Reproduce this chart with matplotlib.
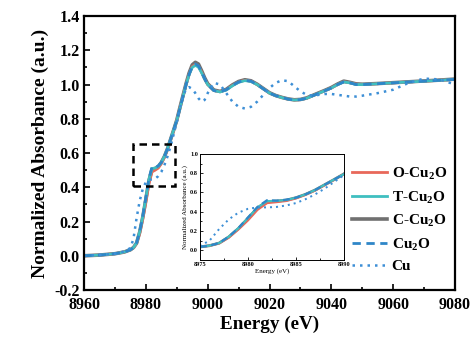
import matplotlib
matplotlib.use("Agg")
import matplotlib.pyplot as plt
from matplotlib.patches import Rectangle
from matplotlib.ticker import MultipleLocator

plt.rcParams["font.family"] = ["Liberation Serif", "DejaVu Serif"]
plt.rcParams["font.weight"] = "bold"
plt.rcParams["mathtext.fontset"] = "custom"
plt.rcParams["mathtext.rm"] = "Liberation Serif:bold"

# Photon energy grid (eV)
energy = [8960, 8965, 8970, 8973, 8975, 8976, 8977, 8978, 8979, 8980,
          8981, 8982, 8983, 8984, 8985, 8986, 8987, 8988, 8989, 8990,
          8991, 8992, 8993, 8994, 8995, 8996, 8997, 8998, 8999, 9000,
          9002, 9004, 9006, 9008, 9010, 9012, 9014, 9016, 9018, 9020,
          9022, 9024, 9026, 9028, 9030, 9032, 9034, 9036, 9038, 9040,
          9042, 9044, 9046, 9048, 9050, 9055, 9060, 9065, 9070, 9075, 9080]

# Normalized Cu K-edge XANES spectra
o_cu2o = [0.000, 0.004, 0.012, 0.022, 0.035, 0.047, 0.072, 0.130, 0.215, 0.310,
          0.420, 0.490, 0.500, 0.512, 0.538, 0.575, 0.620, 0.675, 0.732, 0.790,
          0.860, 0.930, 1.000, 1.060, 1.105, 1.118, 1.108, 1.073, 1.033, 1.000,
          0.965, 0.958, 0.970, 0.995, 1.015, 1.025, 1.020, 1.000, 0.975, 0.950,
          0.935, 0.924, 0.915, 0.910, 0.912, 0.920, 0.935, 0.950, 0.965, 0.980,
          1.000, 1.016, 1.010, 1.002, 1.000, 1.005, 1.010, 1.015, 1.020, 1.025, 1.030]
t_cu2o = [0.000, 0.004, 0.012, 0.022, 0.035, 0.048, 0.075, 0.140, 0.228, 0.335,
          0.445, 0.510, 0.512, 0.522, 0.545, 0.580, 0.625, 0.680, 0.735, 0.790,
          0.860, 0.930, 1.000, 1.058, 1.100, 1.112, 1.102, 1.070, 1.032, 1.000,
          0.965, 0.957, 0.968, 0.993, 1.013, 1.023, 1.018, 1.000, 0.975, 0.950,
          0.935, 0.924, 0.915, 0.910, 0.912, 0.920, 0.935, 0.950, 0.965, 0.980,
          1.000, 1.015, 1.010, 1.000, 1.000, 1.005, 1.010, 1.015, 1.020, 1.025, 1.030]
c_cu2o = [0.000, 0.004, 0.012, 0.022, 0.035, 0.048, 0.074, 0.138, 0.225, 0.330,
          0.440, 0.505, 0.510, 0.520, 0.545, 0.580, 0.625, 0.680, 0.735, 0.792,
          0.865, 0.935, 1.005, 1.068, 1.115, 1.130, 1.120, 1.082, 1.040, 1.005,
          0.968, 0.960, 0.972, 0.998, 1.018, 1.028, 1.022, 1.002, 0.977, 0.952,
          0.936, 0.925, 0.916, 0.911, 0.913, 0.922, 0.937, 0.952, 0.967, 0.983,
          1.003, 1.020, 1.013, 1.004, 1.002, 1.006, 1.011, 1.016, 1.021, 1.026, 1.032]
cu2o_ref = [0.000, 0.004, 0.012, 0.022, 0.035, 0.048, 0.075, 0.140, 0.230, 0.340,
            0.450, 0.520, 0.515, 0.525, 0.545, 0.580, 0.625, 0.680, 0.735, 0.790,
            0.860, 0.930, 1.000, 1.060, 1.105, 1.120, 1.110, 1.075, 1.035, 1.000,
            0.965, 0.958, 0.970, 0.995, 1.015, 1.025, 1.020, 1.000, 0.975, 0.950,
            0.935, 0.925, 0.915, 0.910, 0.912, 0.920, 0.935, 0.950, 0.965, 0.980,
            1.000, 1.015, 1.010, 1.000, 1.000, 1.005, 1.010, 1.015, 1.020, 1.025, 1.030]
cu_foil = [0.000, 0.005, 0.012, 0.025, 0.045, 0.100, 0.220, 0.320, 0.390, 0.430,
           0.445, 0.445, 0.450, 0.465, 0.490, 0.530, 0.580, 0.640, 0.710, 0.780,
           0.860, 0.930, 0.975, 0.985, 0.975, 0.950, 0.920, 0.900, 0.910, 0.950,
           1.010, 1.000, 0.950, 0.900, 0.870, 0.860, 0.870, 0.900, 0.940, 0.980,
           1.010, 1.025, 1.020, 0.990, 0.960, 0.940, 0.935, 0.940, 0.945, 0.945,
           0.940, 0.935, 0.930, 0.930, 0.935, 0.950, 0.970, 1.010, 1.035, 1.030, 1.000]

labels = ["O-Cu$_\\mathregular{2}$O", "T-Cu$_\\mathregular{2}$O", "C-Cu$_\\mathregular{2}$O",
          "Cu$_\\mathregular{2}$O", "Cu"]
colors = ["#e8685a", "#3fbfc0", "#707070", "#2f86c8", "#3d8fd6"]


def draw_spectra(ax, lw):
    h_c, = ax.plot(energy, c_cu2o, color=colors[2], lw=lw * 1.3)
    h_o, = ax.plot(energy, o_cu2o, color=colors[0], lw=lw)
    h_t, = ax.plot(energy, t_cu2o, color=colors[1], lw=lw)
    h_r, = ax.plot(energy, cu2o_ref, color=colors[3], lw=lw, ls=(0, (3, 2)))
    h_cu, = ax.plot(energy, cu_foil, color=colors[4], lw=lw * 0.9, ls=(0, (1, 2)))
    return [h_o, h_t, h_c, h_r, h_cu]


fig = plt.figure(figsize=(4.76, 3.42), dpi=100)
ax = fig.add_axes([0.1765, 0.152, 0.7795, 0.801])
handles = draw_spectra(ax, 2.0)
ax.set_xlim(8960, 9080)
ax.set_ylim(-0.2, 1.4)
ax.xaxis.set_major_locator(MultipleLocator(20))
ax.xaxis.set_minor_locator(MultipleLocator(10))
ax.yaxis.set_major_locator(MultipleLocator(0.2))
ax.yaxis.set_minor_locator(MultipleLocator(0.1))
ax.yaxis.set_major_formatter(plt.FuncFormatter(lambda v, p: f"{v:.1f}"))
ax.tick_params(which="both", direction="in", top=False, right=False, width=1.2,
               labelsize=11.5)
ax.tick_params(axis="x", which="major", pad=5)
ax.tick_params(axis="y", which="major", pad=3)
ax.tick_params(which="major", length=4)
ax.tick_params(which="minor", length=2.5)
for s in ax.spines.values():
    s.set_linewidth(1.6)
ax.set_xlabel("Energy (eV)", fontsize=13.8, fontweight="bold", labelpad=2)
ax.set_ylabel("Normalized Absorbance (a.u.)", fontsize=14, fontweight="bold", labelpad=4)

ax.add_patch(Rectangle((8976, 0.41), 13.5, 0.24, fill=False, ec="black", lw=1.8,
                       ls=(0, (3, 2)), zorder=5))

ax.legend(handles, labels, loc="upper left", bbox_to_anchor=(0.722, 0.455),
          frameon=False, fontsize=11, handlelength=2.3, handletextpad=0.3,
          labelspacing=0.45, borderaxespad=0, borderpad=0)

# Zoomed view of the pre-edge region
ins = fig.add_axes([0.420, 0.240, 0.3025, 0.310])
draw_spectra(ins, 1.6)
ins.set_xlim(8975, 8990)
ins.set_ylim(-0.1, 1.0)
ins.xaxis.set_major_locator(MultipleLocator(5))
ins.xaxis.set_minor_locator(MultipleLocator(2.5))
ins.yaxis.set_major_locator(MultipleLocator(0.2))
ins.yaxis.set_minor_locator(MultipleLocator(0.1))
ins.yaxis.set_major_formatter(plt.FuncFormatter(lambda v, p: f"{v:.1f}"))
ins.tick_params(which="both", direction="in", labelsize=4.5, width=0.6, pad=1.5)
ins.tick_params(which="major", length=2.5)
ins.tick_params(which="minor", length=1.5)
for s in ins.spines.values():
    s.set_linewidth(0.7)
ins.set_xlabel("Energy (eV)", fontsize=5, labelpad=1)
ins.set_ylabel("Normalized Absorbance (a.u.)", fontsize=5, labelpad=1.5)

fig.savefig("out.png", dpi=100)
